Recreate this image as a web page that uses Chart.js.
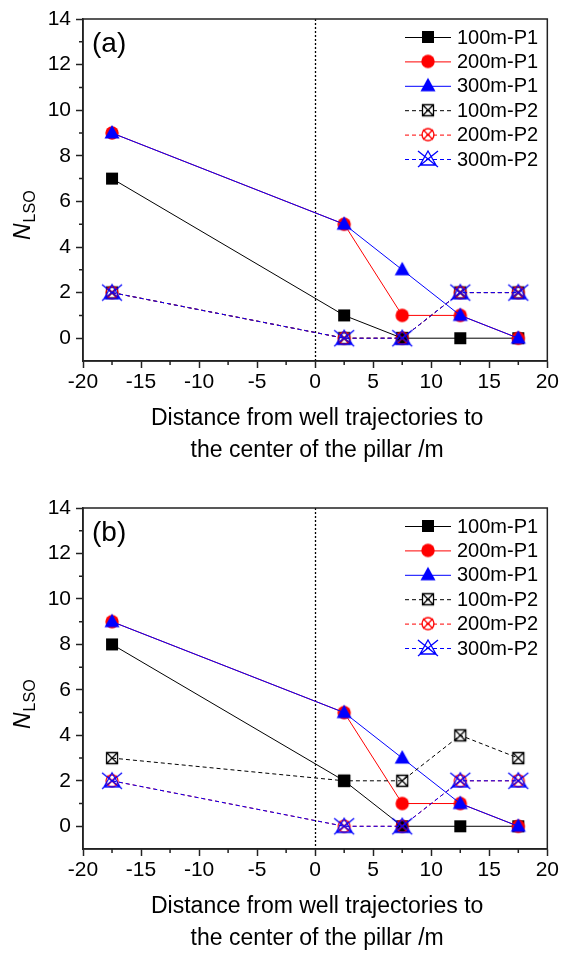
<!DOCTYPE html>
<html>
<head>
<meta charset="utf-8">
<script src="https://cdn.jsdelivr.net/npm/chart.js@4.4.1/dist/chart.umd.min.js"></script>
<style>
  html, body { margin: 0; padding: 0; background: #fff; }
  canvas { display: block; }
</style>
</head>
<body>
<canvas id="chartA" width="561" height="489"></canvas>
<canvas id="chartB" width="561" height="464"></canvas>
<script>
// well positions relative to the pillar centre (m)
const distances = [-17.5, 2.5, 7.5, 12.5, 17.5];
const seriesNames = ['100m-P1', '200m-P1', '300m-P1', '100m-P2', '200m-P2', '300m-P2'];
const xTicks = [-20, -15, -10, -5, 0, 5, 10, 15, 20];
const yTicks = [0, 2, 4, 6, 8, 10, 12, 14];

// panel (a)
const a100P1 = [7, 1, 0, 0, 0];
const a200P1 = [9, 5, 1, 1, 0];
const a300P1 = [9, 5, 3, 1, 0];
const a100P2 = [2, 0, 0, 2, 2];
const a200P2 = [2, 0, 0, 2, 2];
const a300P2 = [2, 0, 0, 2, 2];

// panel (b)
const b100P1 = [8, 2, 0, 0, 0];
const b200P1 = [9, 5, 1, 1, 0];
const b300P1 = [9, 5, 3, 1, 0];
const b100P2 = [3, 2, 2, 4, 3];
const b200P2 = [2, 0, 0, 2, 2];
const b300P2 = [2, 0, 0, 2, 2];

const FONT = '"Liberation Sans", Arial, sans-serif';
const colors = ['#000000', '#ff0000', '#0000ff'];
const axisColor = '#222';

Chart.defaults.font.family = FONT;
Chart.defaults.color = '#000';

// small canvases used as point styles (Origin-like symbols)
function makeMarker(shape, color, crossed) {
  const c = document.createElement('canvas');
  c.width = 24; c.height = 24;
  const g = c.getContext('2d');
  g.translate(12, 12);
  g.strokeStyle = color;
  g.fillStyle = color;
  g.lineWidth = 1.3;
  g.beginPath();
  if (shape === 'square') {
    const h = crossed ? 5.5 : 6;
    g.rect(-h, -h, 2 * h, 2 * h);
    if (crossed) {
      g.moveTo(-h, -h); g.lineTo(h, h);
      g.moveTo(h, -h); g.lineTo(-h, h);
    }
  } else if (shape === 'circle') {
    const r = crossed ? 6 : 6.7;
    g.arc(0, 0, r, 0, Math.PI * 2);
    if (crossed) {
      g.moveTo(-5, -5); g.lineTo(5, 5);
      g.moveTo(5, -5); g.lineTo(-5, 5);
    }
  } else {
    if (crossed) {
      g.moveTo(0, -8); g.lineTo(8, 6); g.lineTo(-8, 6); g.closePath();
      g.moveTo(-10, -8); g.lineTo(10, 8);
      g.moveTo(10, -8); g.lineTo(-10, 8);
    } else {
      g.moveTo(0, -8); g.lineTo(7.5, 5.5); g.lineTo(-7.5, 5.5); g.closePath();
    }
  }
  if (crossed) g.stroke(); else g.fill();
  return c;
}

const markers = [
  makeMarker('square', colors[0], false),
  makeMarker('circle', colors[1], false),
  makeMarker('triangle', colors[2], false),
  makeMarker('square', colors[0], true),
  makeMarker('circle', colors[1], true),
  makeMarker('triangle', colors[2], true)
];

function buildDatasets(values) {
  return seriesNames.map((name, i) => ({
    label: name,
    data: distances.map((d, k) => ({ x: d, y: values[i][k] })),
    showLine: true,
    borderColor: colors[i % 3],
    backgroundColor: colors[i % 3],
    borderWidth: 1,
    borderDash: i < 3 ? [] : [4, 3],
    pointStyle: markers[i],
    pointRadius: 7,
    order: seriesNames.length - i   // later series sit on top
  }));
}

// zero line, frame, minor ticks, legend and titles
function decorations(panelLabel) {
  return {
    id: 'decorations',
    beforeDatasetsDraw(chart) {
      const { ctx, chartArea: a, scales: { x } } = chart;
      const px = Math.round(x.getPixelForValue(0)) + 0.5;
      ctx.save();
      ctx.strokeStyle = '#000';
      ctx.lineWidth = 1.3;
      ctx.setLineDash([2, 2]);
      ctx.beginPath();
      ctx.moveTo(px, a.top);
      ctx.lineTo(px, a.bottom);
      ctx.stroke();
      ctx.restore();
    },
    afterDraw(chart) {
      const { ctx, chartArea: a, scales: { x, y } } = chart;
      ctx.save();

      // box round the plot
      ctx.strokeStyle = axisColor;
      ctx.lineWidth = 1.5;
      ctx.strokeRect(a.left, a.top, a.right - a.left, a.bottom - a.top);

      // minor ticks
      ctx.lineWidth = 1.5;
      ctx.beginPath();
      for (let v = -17.5; v < 20; v += 5) {
        const px = x.getPixelForValue(v);
        ctx.moveTo(px, a.bottom);
        ctx.lineTo(px, a.bottom + 4);
      }
      for (let v = 1; v < 14; v += 2) {
        const py = y.getPixelForValue(v);
        ctx.moveTo(a.left, py);
        ctx.lineTo(a.left - 4, py);
      }
      ctx.stroke();

      // legend
      ctx.font = '20px ' + FONT;
      ctx.textBaseline = 'middle';
      ctx.textAlign = 'left';
      chart.data.datasets.forEach((ds, i) => {
        const ly = a.top + 18 + i * 24.4;
        ctx.strokeStyle = ds.borderColor;
        ctx.lineWidth = 1;
        ctx.setLineDash(ds.borderDash);
        ctx.beginPath();
        ctx.moveTo(405, ly + 0.5);
        ctx.lineTo(451, ly + 0.5);
        ctx.stroke();
        ctx.setLineDash([]);
        const m = ds.pointStyle;
        ctx.drawImage(m, 428 - m.width / 2, ly - m.height / 2);
        ctx.fillStyle = '#000';
        ctx.fillText(ds.label, 457, ly + 1);
      });

      // panel label
      ctx.font = '28px ' + FONT;
      ctx.fillText(panelLabel, 92, a.top + 25);

      // x axis title
      ctx.font = '23px ' + FONT;
      ctx.textAlign = 'center';
      const cx = (a.left + a.right) / 2 + 2;
      ctx.fillText('Distance from well trajectories to', cx, a.bottom + 58);
      ctx.fillText('the center of the pillar /m', cx, a.bottom + 90);

      // y axis title: N with subscript LSO
      ctx.translate(30, a.top + 221);
      ctx.rotate(-Math.PI / 2);
      ctx.textAlign = 'left';
      ctx.textBaseline = 'alphabetic';
      ctx.font = 'italic 23px ' + FONT;
      ctx.fillText('N', 0, 0);
      const w = ctx.measureText('N').width;
      ctx.font = '16px ' + FONT;
      ctx.fillText('LSO', w + 1, 5);

      ctx.restore();
    }
  };
}

function makeChart(canvasId, values, panelLabel, xAxisHeight) {
  const ctx = document.getElementById(canvasId).getContext('2d');
  return new Chart(ctx, {
    type: 'scatter',
    data: { datasets: buildDatasets(values) },
    options: {
      responsive: false,
      animation: false,
      layout: { padding: { top: 19, right: 13, left: 0, bottom: 0 } },
      plugins: { legend: { display: false }, tooltip: { enabled: false } },
      scales: {
        x: {
          type: 'linear',
          min: -20,
          max: 20,
          afterBuildTicks: s => { s.ticks = xTicks.map(v => ({ value: v })); },
          afterFit: s => { s.height = xAxisHeight; },
          ticks: { font: { size: 21 }, color: '#000', padding: 2, maxRotation: 0, autoSkip: false },
          grid: { drawOnChartArea: false, tickLength: 7, tickWidth: 1.5, tickColor: axisColor },
          border: { color: axisColor, width: 1.5 }
        },
        y: {
          type: 'linear',
          min: -1,
          max: 14,
          afterBuildTicks: s => { s.ticks = yTicks.map(v => ({ value: v })); },
          afterFit: s => { s.width = 83; },
          ticks: { font: { size: 21 }, color: '#000', padding: 5 },
          grid: { drawOnChartArea: false, tickLength: 7, tickWidth: 1.5, tickColor: axisColor },
          border: { color: axisColor, width: 1.5 }
        }
      }
    },
    plugins: [decorations(panelLabel)]
  });
}

makeChart('chartA', [a100P1, a200P1, a300P1, a100P2, a200P2, a300P2], '(a)', 128);
makeChart('chartB', [b100P1, b200P1, b300P1, b100P2, b200P2, b300P2], '(b)', 104);
</script>
</body>
</html>
